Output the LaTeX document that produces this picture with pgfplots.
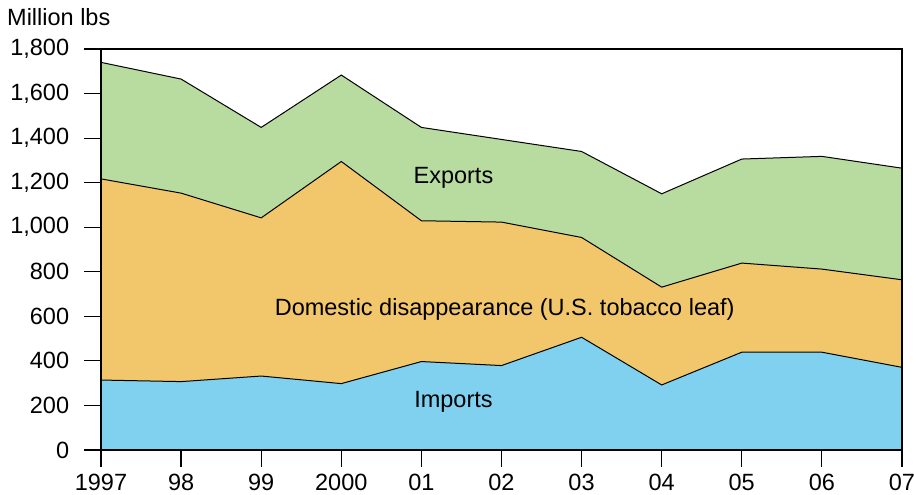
\documentclass[border=0pt]{standalone}
\usepackage{fontspec}
\setmainfont{Liberation Sans}
\usepackage{pgfplots}
\pgfplotsset{compat=1.18}
\definecolor{impblue}{RGB}{128,208,240}
\definecolor{domorange}{RGB}{242,198,106}
\definecolor{expgreen}{RGB}{184,219,160}
\begin{document}
\fontsize{23.5}{26}\selectfont
\begin{tikzpicture}
\begin{axis}[
  anchor=south west, at={(0,0)},
  scale only axis, width=801pt, height=401pt,
  xmin=1997, xmax=2007, ymin=0, ymax=1800,
  xtick={1997,...,2007},
  xticklabels={1997,98,99,2000,01,02,03,04,05,06,07},
  ytick={0,200,...,1800},
  /pgf/number format/.cd, 1000 sep={,}, assume math mode=true, /pgfplots/.cd,
  tick pos=left, tick align=outside,
  major tick length=17pt,
  tick style={line width=1.2pt, black},
  axis line style={line width=2.5pt},
  ticklabel style={font=\fontsize{23.5}{26}\selectfont},
  yticklabel style={xshift=-7pt},
  xticklabel style={yshift=1pt},
  axis on top,
  clip=false,
]
% cumulative tops, drawn back to front
\addplot[fill=expgreen, draw=black, line width=1pt] coordinates {
(1997,1740) (1998,1665) (1999,1448) (2000,1683) (2001,1448) (2002,1394)
(2003,1340) (2004,1150) (2005,1306) (2006,1318) (2007,1265)
} \closedcycle;
\addplot[fill=domorange, draw=black, line width=1pt] coordinates {
(1997,1217) (1998,1153) (1999,1042) (2000,1295) (2001,1029) (2002,1023)
(2003,954) (2004,731) (2005,839) (2006,812) (2007,764)
} \closedcycle;
\addplot[fill=impblue, draw=black, line width=1pt] coordinates {
(1997,314) (1998,307) (1999,332) (2000,298) (2001,397) (2002,379)
(2003,506) (2004,292) (2005,439) (2006,439) (2007,371)
} \closedcycle;
\node[anchor=base] at (axis cs:2001.40,1198) {Exports};
\node[anchor=base] at (axis cs:2002.04,602) {Domestic disappearance (U.S. tobacco leaf)};
\node[anchor=base] at (axis cs:2001.40,193) {Imports};
\node[anchor=base west, inner sep=0pt] at (rel axis cs:0,1) [xshift=-94pt, yshift=23pt] {Million lbs};
\end{axis}
\pgfresetboundingbox
\path[use as bounding box] (-101pt,-45pt) rectangle (813pt,450pt);
\end{tikzpicture}
\end{document}
